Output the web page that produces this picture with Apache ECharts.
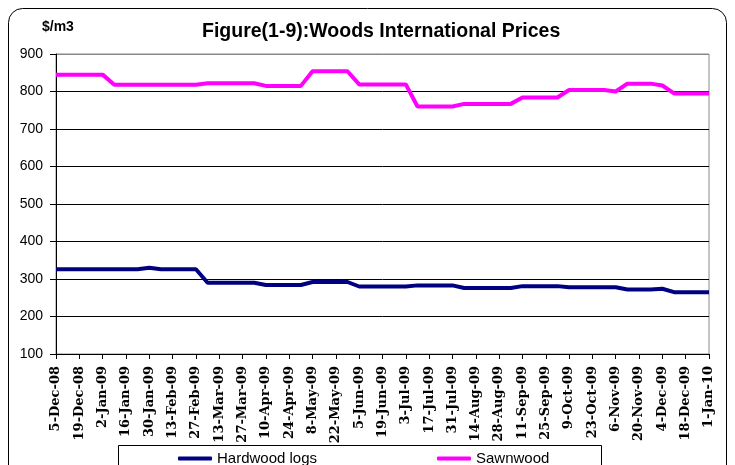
<!DOCTYPE html>
<html>
<head>
<meta charset="utf-8">
<script src="https://cdn.jsdelivr.net/npm/echarts@6/dist/echarts.min.js"></script>
<style>html,body{margin:0;padding:0;background:#fff;}#c{width:735px;height:465px;}</style>
</head>
<body>
<div id="c"></div>
<script>
var categories = ['5-Dec-08','12-Dec-08','19-Dec-08','26-Dec-08','2-Jan-09','9-Jan-09','16-Jan-09','23-Jan-09','30-Jan-09','6-Feb-09','13-Feb-09','20-Feb-09','27-Feb-09','6-Mar-09','13-Mar-09','20-Mar-09','27-Mar-09','3-Apr-09','10-Apr-09','17-Apr-09','24-Apr-09','1-May-09','8-May-09','15-May-09','22-May-09','29-May-09','5-Jun-09','12-Jun-09','19-Jun-09','26-Jun-09','3-Jul-09','10-Jul-09','17-Jul-09','24-Jul-09','31-Jul-09','7-Aug-09','14-Aug-09','21-Aug-09','28-Aug-09','4-Sep-09','11-Sep-09','18-Sep-09','25-Sep-09','2-Oct-09','9-Oct-09','16-Oct-09','23-Oct-09','30-Oct-09','6-Nov-09','13-Nov-09','20-Nov-09','27-Nov-09','4-Dec-09','11-Dec-09','18-Dec-09','25-Dec-09','1-Jan-10'];
var hardwood = [326,326,326,326,326,326,326,326,330,326,326,326,326,290,290,290,290,290,284,284,284,284,292,292,292,292,280,280,280,280,280,283,283,283,283,276,276,276,276,276,281,281,281,281,278,278,278,278,278,272,272,272,274,265,265,265,265];
var sawnwood = [845,845,845,845,845,818,818,818,818,818,818,818,818,822,822,822,822,822,815,815,815,815,854,854,854,854,819,819,819,819,819,760,760,760,760,767,767,767,767,767,784,784,784,784,804,804,804,804,800,821,821,821,816,795,795,795,795];
var yTicks = {min:100, max:900, interval:100};

var chart = echarts.init(document.getElementById('c'));
chart.setOption({
  animation:false,
  backgroundColor:'#fff',
  grid:{left:56, right:26, top:54, bottom:111, show:true, borderColor:'#888', borderWidth:1},
  graphic:[
    {type:'rect', shape:{x:8.5,y:8.5,width:718,height:480,r:14}, style:{fill:'none',stroke:'#000',lineWidth:1}, z:-10},
    {type:'rect', shape:{x:118.5,y:445.5,width:483,height:40}, style:{fill:'#fff',stroke:'#000',lineWidth:1}, z:-5},
    {type:'text', left:202, top:22, style:{text:'Figure(1-9):Woods International Prices', font:'bold 19.5px Arial, "Liberation Sans", sans-serif', fill:'#000'}},
    {type:'text', left:42, top:20, style:{text:'$/m3', font:'bold 14px Arial, "Liberation Sans", sans-serif', fill:'#000'}}
  ],
  legend:[
    {data:['Hardwood logs'], left:173, top:446, itemWidth:34, itemHeight:4, itemGap:5, icon:'roundRect', textStyle:{fontSize:15, fontFamily:'Arial, "Liberation Sans", sans-serif', color:'#000'}},
    {data:['Sawnwood'], left:432, top:446, itemWidth:34, itemHeight:4, itemGap:5, icon:'roundRect', textStyle:{fontSize:15, fontFamily:'Arial, "Liberation Sans", sans-serif', color:'#000'}}
  ],
  xAxis:{
    type:'category', data:categories, boundaryGap:false,
    axisLine:{lineStyle:{color:'#000',width:1}},
    axisTick:{interval:1, length:5, lineStyle:{color:'#000'}},
    axisLabel:{interval:1, rotate:90, margin:12, color:'#000', fontSize:13, fontWeight:'bold', fontFamily:'"DejaVu Serif","Liberation Serif",serif'},
    splitLine:{show:false}
  },
  yAxis:{
    type:'value', min:yTicks.min, max:yTicks.max, interval:yTicks.interval,
    axisLine:{show:true, lineStyle:{color:'#000'}},
    axisTick:{show:true, length:6, lineStyle:{color:'#000'}},
    axisLabel:{color:'#000', fontSize:14, margin:13, fontFamily:'Arial, "Liberation Sans", sans-serif'},
    splitLine:{show:true, lineStyle:{color:['#000','#000','#000','#000','#000','#000','#000','#000','#888'], width:1}}
  },
  series:[
    {name:'Hardwood logs', type:'line', data:hardwood, showSymbol:false, symbol:'none', lineStyle:{color:'#000080', width:4}, itemStyle:{color:'#000080'}},
    {name:'Sawnwood', type:'line', data:sawnwood, showSymbol:false, symbol:'none', lineStyle:{color:'#FF00FF', width:4}, itemStyle:{color:'#FF00FF'}}
  ]
});
</script>
</body>
</html>
